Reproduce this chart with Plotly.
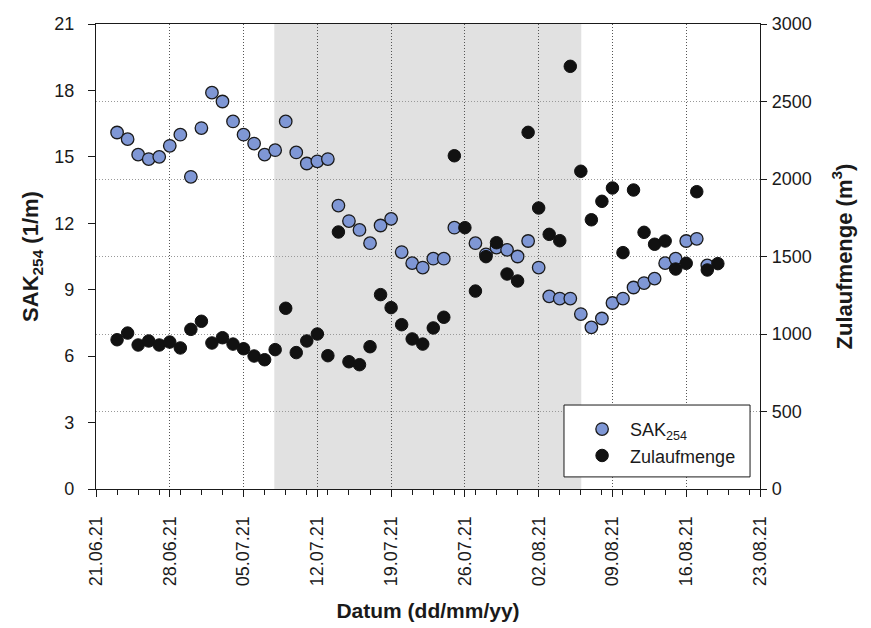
import plotly.graph_objects as go

# ---- data ----
sak_dates = [
    "2021-06-23", "2021-06-24", "2021-06-25", "2021-06-26", "2021-06-27", "2021-06-28", "2021-06-29", "2021-06-30",
    "2021-07-01", "2021-07-02", "2021-07-03", "2021-07-04", "2021-07-05", "2021-07-06", "2021-07-07", "2021-07-08",
    "2021-07-09", "2021-07-10", "2021-07-11", "2021-07-12", "2021-07-13", "2021-07-14", "2021-07-15", "2021-07-16",
    "2021-07-17", "2021-07-18", "2021-07-19", "2021-07-20", "2021-07-21", "2021-07-22", "2021-07-23", "2021-07-24",
    "2021-07-25",
    "2021-07-27", "2021-07-28", "2021-07-29", "2021-07-30", "2021-07-31", "2021-08-01", "2021-08-02", "2021-08-03",
    "2021-08-04", "2021-08-05", "2021-08-06", "2021-08-07", "2021-08-08", "2021-08-09", "2021-08-10", "2021-08-11",
    "2021-08-12", "2021-08-13", "2021-08-14", "2021-08-15", "2021-08-16", "2021-08-17", "2021-08-18",
]
sak_values = [
    16.1, 15.8, 15.1, 14.9, 15.0, 15.5, 16.0, 14.1,
    16.3, 17.9, 17.5, 16.6, 16.0, 15.6, 15.1, 15.3,
    16.6, 15.2, 14.7, 14.8, 14.9, 12.8, 12.1, 11.7,
    11.1, 11.9, 12.2, 10.7, 10.2, 10.0, 10.4, 10.4,
    11.8,
    11.1, 10.6, 10.9, 10.8, 10.5, 11.2, 10.0, 8.7,
    8.6, 8.6, 7.9, 7.3, 7.7, 8.4, 8.6, 9.1,
    9.3, 9.5, 10.2, 10.4, 11.2, 11.3, 10.1,
]
zulauf_dates = [
    "2021-06-23", "2021-06-24", "2021-06-25", "2021-06-26", "2021-06-27", "2021-06-28", "2021-06-29", "2021-06-30",
    "2021-07-01", "2021-07-02", "2021-07-03", "2021-07-04", "2021-07-05", "2021-07-06", "2021-07-07", "2021-07-08",
    "2021-07-09", "2021-07-10", "2021-07-11", "2021-07-12", "2021-07-13", "2021-07-14", "2021-07-15", "2021-07-16",
    "2021-07-17", "2021-07-18", "2021-07-19", "2021-07-20", "2021-07-21", "2021-07-22", "2021-07-23", "2021-07-24",
    "2021-07-25", "2021-07-26",
    "2021-07-27", "2021-07-28", "2021-07-29", "2021-07-30", "2021-07-31", "2021-08-01", "2021-08-02", "2021-08-03",
    "2021-08-04", "2021-08-05", "2021-08-06", "2021-08-07", "2021-08-08", "2021-08-09", "2021-08-10", "2021-08-11",
    "2021-08-12", "2021-08-13", "2021-08-14", "2021-08-15", "2021-08-16", "2021-08-17", "2021-08-18", "2021-08-19",
]
zulauf_values = [
    963, 1006, 929, 955, 929, 948, 910, 1030,
    1082, 942, 976, 935, 905, 858, 834, 899,
    1166, 880, 955, 1000, 860, 1658, 821, 802,
    918, 1254, 1170, 1060, 968, 935, 1039, 1108,
    2150, 1686,
    1277, 1499, 1589, 1387, 1342, 2301, 1813, 1643,
    1602, 2727, 2050, 1737, 1856, 1942, 1525, 1929,
    1656, 1579, 1600, 1419, 1456, 1918, 1413, 1454,
]
shade_start = "2021-07-07 22:00"
shade_end = "2021-08-06 01:00"
x_range = ["2021-06-21", "2021-08-23"]
left_ticks = [0, 3, 6, 9, 12, 15, 18, 21]
right_ticks = [0, 500, 1000, 1500, 2000, 2500, 3000]

FONT = "Liberation Sans, Arial, sans-serif"
DAY = 86400000
INK = "#1a1a1a"

fig = go.Figure()
fig.add_trace(go.Scatter(
    x=sak_dates, y=sak_values, mode="markers", name="SAK<sub>254</sub>",
    marker=dict(size=12.5, color="#7f97d5", line=dict(color=INK, width=1.3)),
    yaxis="y",
))
fig.add_trace(go.Scatter(
    x=zulauf_dates, y=zulauf_values, mode="markers", name="Zulaufmenge",
    marker=dict(size=12.5, color="#111111", line=dict(color="#111111", width=1)),
    yaxis="y2",
))

# shaded period
fig.add_shape(type="rect", xref="x", yref="paper", x0=shade_start, x1=shade_end,
              y0=0, y1=1, fillcolor="#e1e1e1", line=dict(width=0), layer="below")
# legend frame
fig.add_shape(type="rect", xref="paper", yref="paper", x0=0.7048, x1=0.985,
              y0=0.026, y1=0.1806, fillcolor="white", line=dict(color=INK, width=1),
              layer="above")

fig.update_layout(
    width=863, height=620,
    margin=dict(l=88, r=111, t=16, b=139, autoexpand=False),
    paper_bgcolor="white", plot_bgcolor="white",
    font=dict(family=FONT, size=18, color=INK),
    showlegend=True,
    legend=dict(x=0.72, y=0.168, xanchor="left", yanchor="top",
                bgcolor="rgba(0,0,0,0)", borderwidth=0,
                font=dict(size=18, family=FONT, color=INK),
                itemwidth=46, tracegroupgap=0),
    xaxis=dict(
        type="date", range=x_range, tick0="2021-06-21", dtick=7 * DAY,
        tickformat="%d.%m.%y", tickangle=-90, automargin=False,
        ticks="outside", ticklen=7, tickcolor=INK, tickwidth=1,
        showline=True, linecolor=INK, linewidth=1.2, mirror=True,
        showgrid=True, gridcolor="#555555", griddash="1px,2px", gridwidth=1,
        minor=dict(ticks="outside", ticklen=5, tick0="2021-06-21", dtick=2 * DAY,
                   tickcolor=INK, showgrid=False),
        ticklabelstandoff=12,
        zeroline=False,
        title=dict(text="<b>Datum (dd/mm/yy)</b>", font=dict(size=21, family=FONT, color=INK), standoff=17),
    ),
    yaxis=dict(
        range=[0, 21], tickvals=left_ticks, automargin=False,
        ticks="outside", ticklen=7, tickcolor=INK,
        showline=True, linecolor=INK, linewidth=1.2,
        showgrid=False, zeroline=False, ticklabelstandoff=10,
        title=dict(text="<b>SAK<sub>254</sub> (1/m)</b>", font=dict(size=22, family=FONT, color=INK), standoff=9),
    ),
    yaxis2=dict(
        range=[0, 3000], tickvals=right_ticks, overlaying="y", side="right", automargin=False,
        ticks="outside", ticklen=6, tickcolor=INK,
        showline=True, linecolor=INK, linewidth=1.2,
        showgrid=True, gridcolor="#999999", griddash="1px,2px", gridwidth=1,
        zeroline=False, ticklabelstandoff=1,
        title=dict(text="<b>Zulaufmenge (m<sup>3</sup>)</b>", font=dict(size=22, family=FONT, color=INK), standoff=25),
    ),
)

fig.write_html("out.html")
